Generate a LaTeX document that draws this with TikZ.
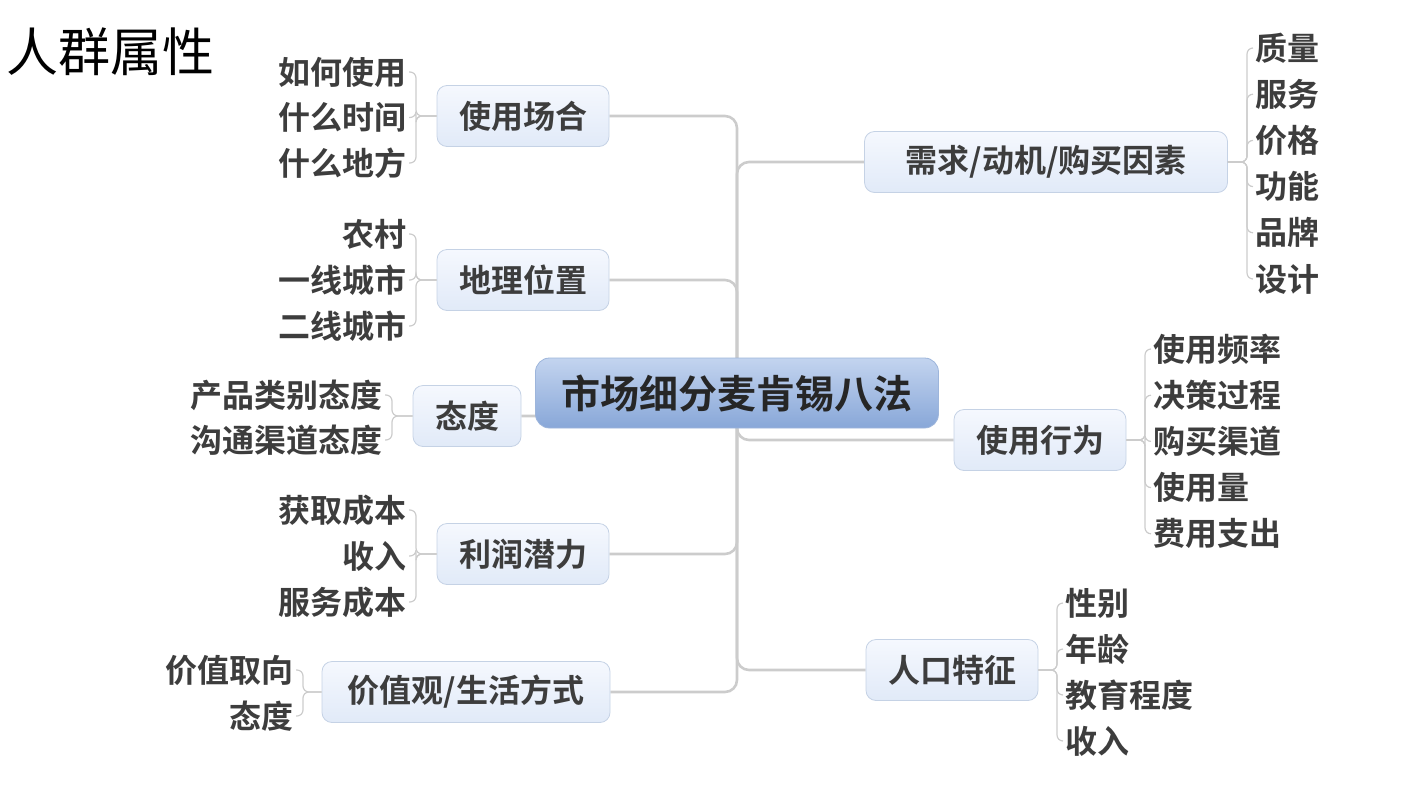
\documentclass[tikz,border=0pt]{standalone}
\usepackage{fontspec}
\setmainfont{Noto Sans CJK SC}[BoldFont={Noto Sans CJK SC Bold}]
\usetikzlibrary{positioning,backgrounds}
\definecolor{ink}{HTML}{3D3D3D}
\definecolor{linegray}{HTML}{CCCCCC}
\definecolor{boxtop}{HTML}{F5F8FE}
\definecolor{boxbot}{HTML}{E1EAF8}
\definecolor{boxline}{HTML}{C5D2E5}
\definecolor{hubtop}{HTML}{C3D4EF}
\definecolor{hubbot}{HTML}{88A7D8}
\definecolor{hubline}{HTML}{9DB5DB}
\begin{document}
\begin{tikzpicture}[
  x=0.5pt, y=-0.5pt,
  box/.style={draw=boxline, rounded corners=5pt, top color=boxtop, bottom color=boxbot, inner xsep=11pt, minimum height=30.5pt, font=\fontsize{16}{18}\selectfont\bfseries, text=ink},
  hubbox/.style={draw=hubline, rounded corners=7pt, top color=hubtop, bottom color=hubbot, inner xsep=13pt, minimum height=35pt, font=\fontsize{19.5}{22}\selectfont\bfseries, text=black!85},
  leaf/.style={inner sep=1pt, font=\fontsize{16}{18}\selectfont\bfseries, text=ink},
  branch/.style={draw=linegray, line width=1.3pt, rounded corners=6pt},
  twig/.style={draw=linegray, line width=0.6pt, rounded corners=3pt}
]
\path[use as bounding box] (0,0) rectangle (1406,787);
\node[font=\fontsize{26}{30}\selectfont] (ttl) at (110,52) {人群属性};

\node[hubbox] (main) at (737,393) {市场细分麦肯锡八法};
\coordinate (hub) at (737,393);

\node[box] (occ) at (523,116) {使用场合};
\node[box] (geo) at (523,280) {地理位置};
\node[box] (att) at (467,416) {态度};
\node[box] (prof) at (523,554) {利润潜力};
\node[box, minimum width=144pt] (life) at (466,692) {价值观/生活方式};
\node[box, minimum width=181.5pt] (need) at (1046,162) {需求/动机/购买因素};
\node[box] (behav) at (1040,440) {使用行为};
\node[box] (demo) at (952,670) {人口特征};

\foreach \t [count=\i] in {如何使用,什么时间,什么地方}
  \node[leaf, anchor=east] (occ\i) at (409,{72+45.5*(\i-1)}) {\t};
\foreach \t [count=\i] in {农村,一线城市,二线城市}
  \node[leaf, anchor=east] (geo\i) at (409,{234+46*(\i-1)}) {\t};
\foreach \t [count=\i] in {产品类别态度,沟通渠道态度}
  \node[leaf, anchor=east] (att\i) at (385,{395+45*(\i-1)}) {\t};
\foreach \t [count=\i] in {获取成本,收入,服务成本}
  \node[leaf, anchor=east] (prof\i) at (409,{510+46*(\i-1)}) {\t};
\foreach \t [count=\i] in {价值取向,态度}
  \node[leaf, anchor=east] (life\i) at (296,{670+46*(\i-1)}) {\t};
\foreach \t [count=\i] in {质量,服务,价格,功能,品牌,设计}
  \node[leaf, anchor=west] (need\i) at (1253,{48+46.2*(\i-1)}) {\t};
\foreach \t [count=\i] in {使用频率,决策过程,购买渠道,使用量,费用支出}
  \node[leaf, anchor=west] (behav\i) at (1151,{349+46.2*(\i-1)}) {\t};
\foreach \t [count=\i] in {性别,年龄,教育程度,收入}
  \node[leaf, anchor=west] (demo\i) at (1063,{603+46*(\i-1)}) {\t};

\coordinate (occbrk) at (416,116);
\coordinate (geobrk) at (416,280);
\coordinate (attbrk) at (392,416);
\coordinate (profbrk) at (416,554);
\coordinate (lifebrk) at (303,692);
\coordinate (needbrk) at (1247,162);
\coordinate (behavbrk) at (1145,440);
\coordinate (demobrk) at (1057,670);

\begin{scope}[on background layer]
\foreach \n in {occ,geo,att,prof,life,need,behav,demo}
  \draw[branch] (hub) |- (\n);
\end{scope}
\foreach \i in {1,2,3} \draw[twig] (occ) -- (occbrk) |- (occ\i);
\foreach \i in {1,2,3} \draw[twig] (geo) -- (geobrk) |- (geo\i);
\foreach \i in {1,2} \draw[twig] (att) -- (attbrk) |- (att\i);
\foreach \i in {1,2,3} \draw[twig] (prof) -- (profbrk) |- (prof\i);
\foreach \i in {1,2} \draw[twig] (life) -- (lifebrk) |- (life\i);
\foreach \i in {1,...,6} \draw[twig] (need) -- (needbrk) |- (need\i);
\foreach \i in {1,...,5} \draw[twig] (behav) -- (behavbrk) |- (behav\i);
\foreach \i in {1,...,4} \draw[twig] (demo) -- (demobrk) |- (demo\i);
\end{tikzpicture}
\end{document}
